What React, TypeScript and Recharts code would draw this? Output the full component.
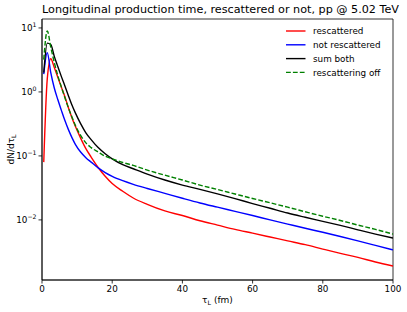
import { LineChart, Line, XAxis, YAxis, ReferenceArea, Legend, Label } from "recharts";

// tau_L bins (fm)
const tau = [0.5, 1.5, 2.5, 3.5, 4.5, 5.5, 6.5, 7.5, 8.5, 9.5, 11, 12.5, 14, 16, 18, 20, 23, 26, 30, 35, 40, 45, 50, 55, 60, 65, 70, 75, 80, 85, 90, 95, 100];

const rescattered = [0.08, 1.6, 3.3, 2.4, 1.7, 1.2, 0.85, 0.57, 0.4, 0.29, 0.19, 0.13, 0.096, 0.066, 0.048, 0.037, 0.028, 0.022, 0.0175, 0.0138, 0.0117, 0.0097, 0.0083, 0.0071, 0.0062, 0.0054, 0.0047, 0.0041, 0.0035, 0.003, 0.0026, 0.0022, 0.0019];
const notRescattered = [1.9, 4.1, 2.0, 1.15, 0.76, 0.52, 0.36, 0.26, 0.195, 0.152, 0.115, 0.094, 0.08, 0.065, 0.055, 0.048, 0.041, 0.036, 0.031, 0.026, 0.0218, 0.0184, 0.0158, 0.0136, 0.0117, 0.01, 0.0086, 0.0074, 0.0064, 0.0055, 0.0047, 0.004, 0.0034];
const sumBoth = [2.0, 5.8, 5.5, 3.6, 2.5, 1.75, 1.25, 0.88, 0.63, 0.47, 0.32, 0.23, 0.18, 0.135, 0.108, 0.09, 0.073, 0.063, 0.052, 0.042, 0.035, 0.03, 0.0255, 0.0215, 0.018, 0.0152, 0.0128, 0.011, 0.0095, 0.0082, 0.007, 0.006, 0.0052];
const rescatteringOff = [3.2, 9.0, 5.0, 2.9, 1.8, 1.2, 0.82, 0.57, 0.41, 0.3, 0.21, 0.16, 0.135, 0.115, 0.099, 0.09, 0.079, 0.071, 0.06, 0.05, 0.042, 0.035, 0.0299, 0.0254, 0.0216, 0.0185, 0.0158, 0.0134, 0.0114, 0.0098, 0.0083, 0.0071, 0.006];

const xTicks = [0, 20, 40, 60, 80, 100];
const yTicks = [0.01, 0.1, 1, 10];
const yTickExponents = ["\u22122", "\u22121", "0", "1"];

const data = tau.map((t, i) => ({
  tau: t,
  rescattered: rescattered[i],
  notRescattered: notRescattered[i],
  sumBoth: sumBoth[i],
  rescatteringOff: rescatteringOff[i],
}));

const legendItems = [
  { name: "rescattered", color: "#ff0000", dash: undefined },
  { name: "not rescattered", color: "#0000ff", dash: undefined },
  { name: "sum both", color: "#000000", dash: undefined },
  { name: "rescattering off", color: "#008000", dash: "4.8 2.1" },
];

const FONT = "DejaVu Sans";

const YTick = ({ x, y, payload }: any) => {
  const i = yTicks.indexOf(payload.value);
  return (
    <g>
      <line x1={x} x2={x - 3.5} y1={y} y2={y} stroke="#000" strokeWidth={0.8} />
      <text x={x - 5.5} y={y + 3.2} textAnchor="end" fontSize={8.8} fill="#000" fontFamily={FONT}>
        10<tspan dy={-4} fontSize={6.2}>{yTickExponents[i]}</tspan>
      </text>
    </g>
  );
};

const LegendBox = () => (
  <svg width={115} height={56} style={{ display: "block" }}>
    {legendItems.map((s, i) => (
      <g key={s.name}>
        <line x1={0} x2={19.5} y1={6 + i * 13.8} y2={6 + i * 13.8} stroke={s.color} strokeWidth={1.4} strokeDasharray={s.dash} />
        <text x={27} y={6 + i * 13.8 + 3.2} fontSize={8.8} fill="#000" fontFamily={FONT}>
          {s.name}
        </text>
      </g>
    ))}
  </svg>
);

export default function App() {
  return (
    <div style={{ position: "absolute", left: 0, top: 0, width: 407, height: 312, background: "#fff", fontFamily: FONT }}>
      <div style={{ position: "absolute", left: 42, width: 351, top: 3, textAlign: "center", fontSize: 11.2, lineHeight: "14px", color: "#000", whiteSpace: "nowrap" }}>
        Longitudinal production time, rescattered or not, pp @ 5.02 TeV
      </div>
      <LineChart width={407} height={312} data={data} margin={{ top: 19, right: 14, bottom: 2, left: 0 }} style={{ fontFamily: FONT }}>
        <XAxis
          dataKey="tau"
          type="number"
          domain={[0, 100]}
          ticks={xTicks}
          allowDataOverflow
          height={30}
          tickSize={3.5}
          tickMargin={2}
          tick={{ fill: "#000", fontSize: 8.8 }}
          axisLine={{ stroke: "#000", strokeWidth: 0.8 }}
          tickLine={{ stroke: "#000", strokeWidth: 0.8 }}
        >
          <Label
            content={({ viewBox }: any) => (
              <text x={viewBox.x + viewBox.width / 2} y={viewBox.y + 23} textAnchor="middle" fontSize={9} fill="#000" fontFamily={FONT}>
                τ<tspan dy={2} fontSize={6.3}>L</tspan>
                <tspan dy={-2}> (fm)</tspan>
              </text>
            )}
          />
        </XAxis>
        <YAxis
          scale="log"
          type="number"
          domain={[0.00115, 13.8]}
          ticks={yTicks}
          allowDataOverflow
          width={42}
          tickSize={0}
          tickMargin={0}
          tick={<YTick />}
          axisLine={{ stroke: "#000", strokeWidth: 0.8 }}
        >
          <Label
            content={({ viewBox }: any) => {
              const cx = viewBox.x + 14;
              const cy = viewBox.y + viewBox.height / 2;
              return (
                <text x={cx} y={cy} transform={`rotate(-90 ${cx} ${cy})`} textAnchor="middle" fontSize={9} fill="#000" fontFamily={FONT}>
                  dN/dτ<tspan dy={2} fontSize={6.3}>L</tspan>
                </text>
              );
            }}
          />
        </YAxis>
        <Line type="monotone" dataKey="rescattered" name="rescattered" stroke="#ff0000" strokeWidth={1.4} dot={false} isAnimationActive={false} />
        <Line type="monotone" dataKey="notRescattered" name="not rescattered" stroke="#0000ff" strokeWidth={1.4} dot={false} isAnimationActive={false} />
        <Line type="monotone" dataKey="sumBoth" name="sum both" stroke="#000000" strokeWidth={1.4} dot={false} isAnimationActive={false} />
        <Line type="monotone" dataKey="rescatteringOff" name="rescattering off" stroke="#008000" strokeWidth={1.4} strokeDasharray="4.8 2.1" dot={false} isAnimationActive={false} />
        <ReferenceArea x1={0} x2={100} y1={0.00115} y2={13.8} fill="none" stroke="#000" strokeWidth={0.8} />
        <Legend
          layout="vertical"
          align="center"
          verticalAlign="middle"
          content={() => <LegendBox />}
          wrapperStyle={{ left: 285.7, top: 25, width: 115 }}
        />
      </LineChart>
    </div>
  );
}
